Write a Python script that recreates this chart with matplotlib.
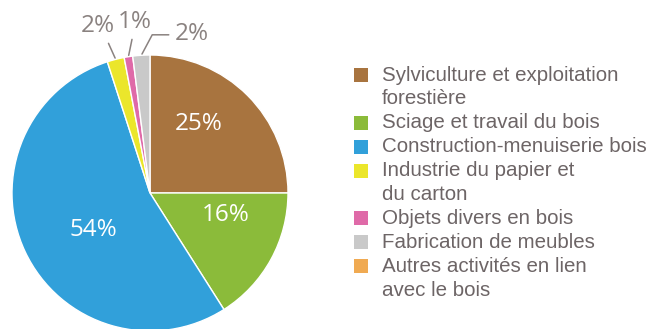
import numpy as np
import matplotlib.pyplot as plt
from matplotlib.patches import Rectangle

# parts de l'emploi de la filiere bois
labels = ["Sylviculture et exploitation\nforestière",
          "Sciage et travail du bois",
          "Construction-menuiserie bois",
          "Industrie du papier et\ndu carton",
          "Objets divers en bois",
          "Fabrication de meubles",
          "Autres activités en lien\navec le bois"]
parts = [25, 16, 54, 2, 1, 2]
couleurs = ["#a8743f", "#8bbb3a", "#31a0da", "#ebe62b", "#df6aa8", "#c9c9c9", "#f0aa52"]

W, H = 658, 329
fig = plt.figure(figsize=(W / 100, H / 100), dpi=100)
fig.patch.set_facecolor("white")

# centre du camembert et rayon en pixels
cx, cy, R = 150, 193, 138
ax = fig.add_axes([(cx - R) / W, (H - cy - R) / H, 2 * R / W, 2 * R / H])

wedges, _ = ax.pie(parts, colors=couleurs[:len(parts)], startangle=90, counterclock=False,
                   radius=1, wedgeprops=dict(edgecolor="white", linewidth=1.0))
ax.set_xlim(-1, 1)
ax.set_ylim(-1, 1)
ax.set_aspect("equal")
ax.axis("off")

gris = "#8a8280"
pct_font = dict(family="Open Sans", fontsize=17.5)

# pourcentages a l'interieur des grandes parts
inner_pos = [(0.35, 0.50), (0.55, -0.16), (-0.41, -0.27)]
for v, (x, y) in zip(parts[:3], inner_pos):
    ax.text(x, y, f"{v}%", color="white", ha="center", va="center", **pct_font)

# petites parts : etiquettes exterieures avec traits de rappel
cum = np.cumsum([0] + parts)
mid = [(cum[i] + cum[i + 1]) / 2 for i in range(len(parts))]
ang = [np.deg2rad(90 - m / 100 * 360) for m in mid]
outer_pos = [(-0.38, 1.21), (-0.11, 1.24), (0.30, 1.155)]
relpos = [(0.75, 0.0), (0.45, 0.0), (0.0, 0.45)]
conn = ["arc3", "arc3", "angle,angleA=0,angleB=62,rad=0"]
for i, (x, y), rp, cs in zip(range(3, 6), outer_pos, relpos, conn):
    ax.annotate(f"{parts[i]}%", xy=(np.cos(ang[i]), np.sin(ang[i])), xytext=(x, y),
                ha="center", va="center", color=gris, annotation_clip=False,
                arrowprops=dict(arrowstyle="-", color=gris, lw=1.1, relpos=rp,
                                shrinkA=2, shrinkB=1, connectionstyle=cs),
                **pct_font)

# legende
y = 75
pas = 23.9
for lab, c in zip(labels, couleurs):
    fig.patches.append(Rectangle((354 / W, 1 - (y + 7) / H), 14 / W, 14 / H,
                                 facecolor=c, edgecolor="none",
                                 transform=fig.transFigure))
    for k, ligne in enumerate(lab.split("\n")):
        fig.text(382 / W, 1 - (y + k * pas) / H, ligne, color="#6d6566",
                 family="Liberation Sans", fontsize=14.8, va="center", ha="left")
    y += pas * (lab.count("\n") + 1)

fig.savefig("out.png", dpi=100)
